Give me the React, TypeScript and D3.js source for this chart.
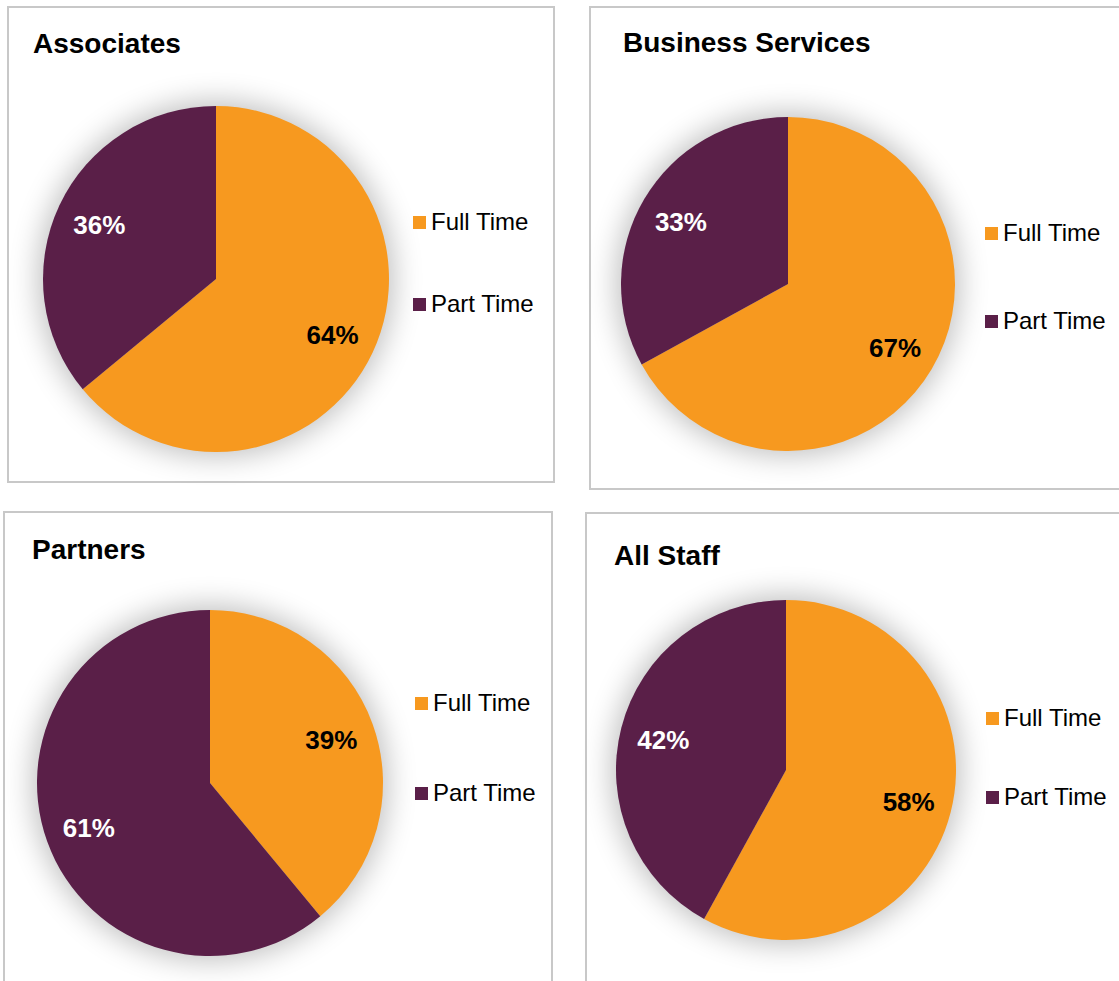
import React from "react";
import * as d3 from "d3";

const panelTitles = ["Associates", "Business Services", "Partners", "All Staff"];
const categories = ["Full Time", "Part Time"];
const fullTime = [64, 67, 39, 58];
const partTime = [36, 33, 61, 42];
const colors = ["#F7991F", "#5A1F48"];
const labelColors = ["#000000", "#FFFFFF"];

const layout = [
  { bx: 8, by: 7, bw: 546, bh: 475, cx: 216, cy: 279, r: 173, tx: 33, ty: 53, lx: 413, ly: [216, 298] },
  { bx: 590, by: 7, bw: 540, bh: 482, cx: 788, cy: 284, r: 167, tx: 623, ty: 52, lx: 985, ly: [227, 315] },
  { bx: 4, by: 512, bw: 548, bh: 490, cx: 210, cy: 783, r: 173, tx: 32, ty: 559, lx: 415, ly: [697, 787] },
  { bx: 586, by: 513, bw: 540, bh: 490, cx: 786, cy: 770, r: 170, tx: 614, ty: 565, lx: 986, ly: [712, 791] },
];

const FONT = "'Liberation Sans', Arial, sans-serif";

function Panel({ idx }: { idx: number }) {
  const L = layout[idx];
  const values = [fullTime[idx], partTime[idx]];
  const pie = d3.pie<number>().sort(null).value((d) => d);
  const arcs = pie(values);
  const arcGen = d3.arc<d3.PieArcDatum<number>>().innerRadius(0).outerRadius(L.r);
  const labelArc = d3.arc<d3.PieArcDatum<number>>().innerRadius(L.r * 0.745).outerRadius(L.r * 0.745);
  const total = d3.sum(values);
  return (
    <g>
      <rect x={L.bx} y={L.by} width={L.bw} height={L.bh} fill="#FFFFFF" stroke="#C8C8C8" strokeWidth={2} />
      <text x={L.tx} y={L.ty} fontFamily={FONT} fontWeight="bold" fontSize={28} fill="#000">
        {panelTitles[idx]}
      </text>
      <circle cx={L.cx} cy={L.cy} r={L.r + 4} fill="#000" opacity={0.26} filter="url(#pieShadow)" />
      <g transform={`translate(${L.cx},${L.cy})`}>
        {arcs.map((a, i) => (
          <path key={i} d={arcGen(a) || ""} fill={colors[i]} />
        ))}
        {arcs.map((a, i) => {
          const [x, y] = labelArc.centroid(a);
          return (
            <text
              key={"l" + i}
              x={x}
              y={y + 1}
              textAnchor="middle"
              dominantBaseline="central"
              fontFamily={FONT}
              fontWeight="bold"
              fontSize={26}
              fill={labelColors[i]}
            >
              {`${Math.round((a.data / total) * 100)}%`}
            </text>
          );
        })}
      </g>
      {categories.map((c, i) => (
        <g key={c}>
          <rect x={L.lx} y={L.ly[i]} width={13} height={13} fill={colors[i]} />
          <text x={L.lx + 18} y={L.ly[i] + 14} fontFamily={FONT} fontSize={24} fill="#000">
            {c}
          </text>
        </g>
      ))}
    </g>
  );
}

export default function App() {
  return (
    <svg
      width={1119}
      height={981}
      style={{ position: "absolute", left: 0, top: 0, background: "#FFFFFF" }}
    >
      <defs>
        <filter id="pieShadow" x="-50%" y="-50%" width="200%" height="200%">
          <feGaussianBlur stdDeviation={15} />
        </filter>
      </defs>
      <rect x={0} y={0} width={1119} height={981} fill="#FFFFFF" />
      {layout.map((_, i) => (
        <Panel key={i} idx={i} />
      ))}
    </svg>
  );
}
